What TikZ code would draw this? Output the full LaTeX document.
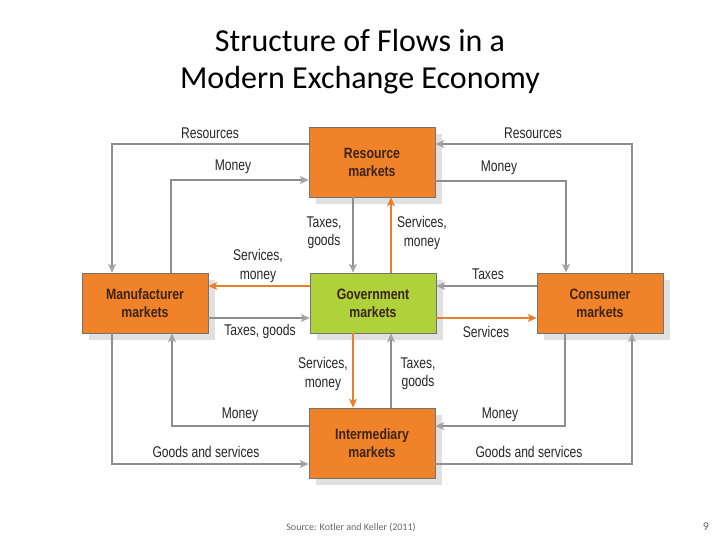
\documentclass[tikz,border=0pt]{standalone}
\usepackage{fontspec}
\setmainfont{Carlito}
\newfontfamily\lblfont[FakeStretch=0.78]{Liberation Sans}
\newfontfamily\boxfont[FakeStretch=0.82]{Liberation Sans}
\usetikzlibrary{arrows.meta,shadows}
\definecolor{boxorange}{HTML}{F0832A}
\definecolor{boxgreen}{HTML}{AFD13A}
\definecolor{flowgray}{HTML}{8E8E8E}
\definecolor{flowtip}{HTML}{A4A4A4}
\definecolor{floworange}{HTML}{EB7D2E}
\definecolor{boxtext}{HTML}{3B2415}
\tikzset{
  market/.style={draw=black!55, line width=0.6pt, minimum width=126pt,
    text=boxtext, font=\boxfont\bfseries\fontsize{15}{18}\selectfont, align=center,
    general shadow={shadow xshift=7pt, shadow yshift=-7pt, fill=black!12}},
  gflow/.style={draw=flowgray, line width=2.4pt,
    -{Stealth[length=9pt,width=8pt,inset=2.5pt,color=flowtip]}},
  oflow/.style={draw=floworange, line width=2.4pt,
    -{Stealth[length=9pt,width=8pt,inset=2.5pt,color=floworange]}},
  lbl/.style={font=\lblfont\fontsize{15.5}{18.5}\selectfont, text=black!85, align=center, inner sep=0pt}
}
\begin{document}
\begin{tikzpicture}[x=1pt,y=-1pt]
\useasboundingbox (0,0) rectangle (720,540);
% title
\node[font=\fontsize{32}{37}\selectfont, align=center] (title) at (360,62) {Structure of Flows in a\\Modern Exchange Economy};
% markets
\node[market, fill=boxorange, minimum height=70pt] (res) at (372,162) {Resource\\markets};
\node[market, fill=boxorange, minimum height=60pt] (man) at (145,303) {Manufacturer\\markets};
\node[market, fill=boxgreen, minimum height=60pt] (gov) at (373,303) {Government\\markets};
\node[market, fill=boxorange, minimum height=60pt] (con) at (600,303) {Consumer\\markets};
\node[market, fill=boxorange, minimum height=70pt] (int) at (372,443) {Intermediary\\markets};
% outer loops top
\draw[gflow] (res.west |- 0,144) -| (man.north -| 112,0);
\draw[gflow] (man.north -| 171,0) |- (res.west |- 0,180);
\draw[gflow] (con.north -| 632,0) |- (res.east |- 0,144);
\draw[gflow] (res.east |- 0,181) -| (con.north -| 566,0);
% outer loops bottom
\draw[gflow] (int.west |- 0,426) -| (man.south -| 172,0);
\draw[gflow] (man.south -| 112,0) |- (int.west |- 0,464);
\draw[gflow] (con.south -| 565,0) |- (int.east |- 0,426);
\draw[gflow] (int.east |- 0,464) -| (con.south -| 632,0);
% government links
\draw[gflow] (res.south -| 353,0) -- (gov.north -| 353,0);
\draw[oflow] (gov.north -| 391,0) -- (res.south -| 391,0);
\draw[oflow] (gov.west |- 0,286) -- (man.east |- 0,286);
\draw[gflow] (man.east |- 0,318) -- (gov.west |- 0,318);
\draw[gflow] (con.west |- 0,286) -- (gov.east |- 0,286);
\draw[oflow] (gov.east |- 0,318) -- (con.west |- 0,318);
\draw[oflow] (gov.south -| 353,0) -- (int.north -| 353,0);
\draw[gflow] (int.north -| 391,0) -- (gov.south -| 391,0);
% labels
\node[lbl] (l1) at (210,133) {Resources};
\node[lbl] (l2) at (533,133) {Resources};
\node[lbl] (l3) at (233,167) {Money};
\node[lbl] (l4) at (499,168) {Money};
\node[lbl] (l5) at (324,233) {Taxes,\\goods};
\node[lbl] (l6) at (422,233) {Services,\\money};
\node[lbl] (l7) at (258,266) {Services,\\money};
\node[lbl] (l8) at (260,331) {Taxes, goods};
\node[lbl] (l9) at (488,274) {Taxes};
\node[lbl] (l10) at (486,332) {Services};
\node[lbl] (l11) at (323,374) {Services,\\money};
\node[lbl] (l12) at (418,374) {Taxes,\\goods};
\node[lbl] (l13) at (240,415) {Money};
\node[lbl] (l14) at (500,415) {Money};
\node[lbl] (l15) at (206,452) {Goods and services};
\node[lbl] (l16) at (529,452) {Goods and services};
% footer
\node[font=\fontsize{10}{12}\selectfont, text=black!60] (src) at (351,528) {Source: Kotler and Keller (2011)};
\node[font=\fontsize{12}{14}\selectfont, text=black!60] (pg) at (706,527) {9};
\end{tikzpicture}
\end{document}
